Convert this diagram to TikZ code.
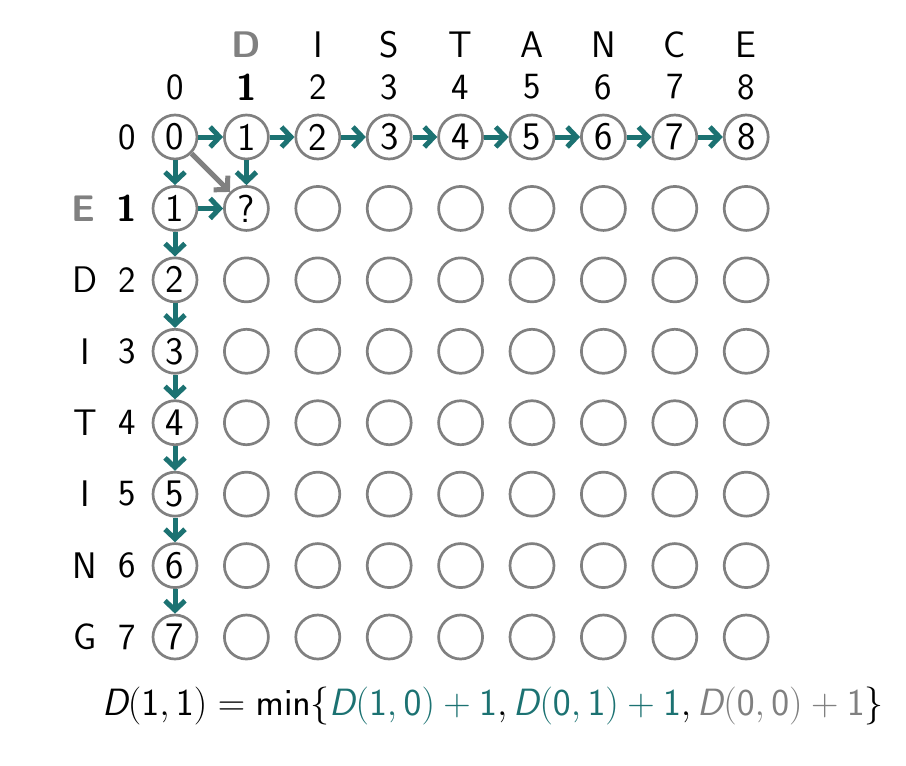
\RequirePackage{fix-cm}
\documentclass[tikz,border=0pt]{standalone}
\usetikzlibrary{arrows.meta}
\definecolor{tealc}{RGB}{28,114,114}
\definecolor{grayc}{RGB}{128,128,128}
\newcommand\Dfn{\textsl{D}}
\newcommand\ms[1]{\mathsf{#1}}
\begin{document}
\begin{tikzpicture}[x=1pt,y=-1pt,
  cell/.style={circle,draw=grayc,line width=2.7pt,minimum size=44pt,inner sep=0pt,
    font=\sffamily\fontsize{39}{42}\selectfont},
  lab/.style={inner sep=0pt,font=\sffamily\fontsize{37}{40}\selectfont},
  arr/.style={draw=tealc,line width=5pt,-{Straight Barb[length=9.5pt,width=20pt]}},
  garr/.style={arr,draw=grayc}
]
\useasboundingbox (0,0) rectangle (906,766);
\foreach \i in {0,...,7}{\foreach \j in {0,...,8}{
  \ifnum\i=0 \def\celltxt{\j}\else\ifnum\j=0 \def\celltxt{\i}\else\def\celltxt{}\fi\fi
  \ifnum\i=1 \ifnum\j=1 \def\celltxt{?}\fi\fi
  \node[cell] (c\i\j) at ({175+71.4*\j},{137+71.43*\i}) {\celltxt};
}}
% column headers
\foreach \j in {0,2,3,4,5,6,7,8}{
  \node[lab] (h\j) at ({175+71.4*\j},87) {\j};
}
\node[lab] (h1) at (246.4,87) {\bfseries 1};
\node[lab,text=grayc] (l1) at (246.4,45) {\bfseries D};
\foreach \j/\L in {2/I,3/S,4/T,5/A,6/N,7/C,8/E}{
  \node[lab] (l\j) at ({175+71.4*\j},45) {\L};
}
% row headers
\node[lab] (r0) at (127,137) {0};
\node[lab] (r1) at (127,208.4) {\bfseries 1};
\node[lab,text=grayc] (m1) at (83,208.4) {\bfseries E};
\foreach \i/\L in {2/D,3/I,4/T,5/I,6/N,7/G}{
  \node[lab] (r\i) at (127,{137+71.43*\i}) {\i};
  \node[lab] (m\i) at (85,{137+71.43*\i}) {\L};
}
% arrows
\foreach \j [evaluate=\j as \k using int(\j+1)] in {0,...,7}{
  \draw[arr] (c0\j) -- (c0\k);
}
\foreach \i [evaluate=\i as \k using int(\i+1)] in {0,...,6}{
  \draw[arr] (c\i0) -- (c\k0);
}
\draw[arr] (c01) -- (c11);
\draw[arr] (c10) -- (c11);
\draw[garr] (c00) -- (c11);
% formula
\node[inner sep=0pt,font=\sffamily\fontsize{38}{42}\selectfont] (f) at (493,706)
 {$\Dfn(\ms{1},\ms{1}) = \ms{min}\{\textcolor{tealc}{\Dfn(\ms{1},\ms{0})+\ms{1}},
   \textcolor{tealc}{\Dfn(\ms{0},\ms{1})+\ms{1}},
   \textcolor{grayc}{\Dfn(\ms{0},\ms{0})+\ms{1}}\}$};
\end{tikzpicture}
\end{document}
